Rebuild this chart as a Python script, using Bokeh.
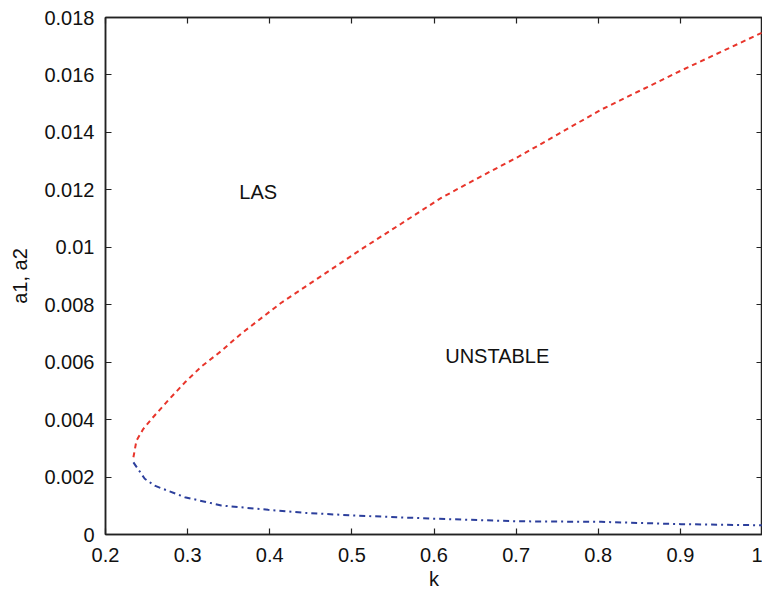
from bokeh.plotting import figure
from bokeh.models import LinearAxis, CustomJSTickFormatter, Label, FixedTicker
from bokeh.embed import file_html
from bokeh.resources import INLINE

# Red dashed curve (upper branch)
red_k = [0.234, 0.2377, 0.2459, 0.256, 0.276, 0.2965, 0.3168, 0.341, 0.3655, 0.4141,
         0.4628, 0.5114, 0.56, 0.6088, 0.6574, 0.704, 0.8034, 0.9007, 1.0]
red_a = [0.00269, 0.00327, 0.00367, 0.00402, 0.00466, 0.00529, 0.00585, 0.00639, 0.007, 0.00807,
         0.009, 0.00993, 0.01082, 0.01172, 0.01247, 0.01317, 0.01479, 0.01615, 0.01748]

# Blue dash-dot curve (lower branch)
blue_k = [0.234, 0.2478, 0.2599, 0.2965, 0.341, 0.398, 0.4445, 0.5032, 0.6005, 0.702,
          0.8034, 0.9007, 1.0]
blue_a = [0.00251, 0.00194, 0.0017, 0.0013, 0.00101, 0.00086, 0.00075, 0.00066, 0.00055, 0.00046,
          0.00044, 0.00036, 0.00032]

x_ticks = [0.2, 0.3, 0.4, 0.5, 0.6, 0.7, 0.8, 0.9, 1.0]
y_ticks = [0, 0.002, 0.004, 0.006, 0.008, 0.01, 0.012, 0.014, 0.016, 0.018]

annotations = [("LAS", 0.386, 0.01192), ("UNSTABLE", 0.677, 0.00622)]

FONT = "Liberation Sans"
FS = "20px"

p = figure(frame_width=657, frame_height=517, x_range=(0.2, 1.0), y_range=(0, 0.018),
           min_border_left=105, min_border_top=17, min_border_right=0, min_border_bottom=40,
           output_backend="svg", toolbar_location=None, x_axis_label="k", y_axis_label="a1, a2")

p.line(red_k, red_a, line_color="#e8352b", line_width=2, line_dash="5 4")
p.line(blue_k, blue_a, line_color="#2c3f9c", line_width=2, line_dash="6 4 2 4")

for txt, kx, ay in annotations:
    p.add_layout(Label(x=kx, y=ay, text=txt, text_align="center", text_baseline="middle",
                       text_font=FONT, text_font_size=FS, text_color="#111111"))

fmt = CustomJSTickFormatter(code="return String(Number(tick.toFixed(6)));")
blank = CustomJSTickFormatter(code="return '';")

p.xgrid.visible = False
p.ygrid.visible = False
p.outline_line_color = "#222222"
p.outline_line_width = 1.5

for ax, ticks in ((p.xaxis[0], x_ticks), (p.yaxis[0], y_ticks)):
    ax.ticker = FixedTicker(ticks=ticks)
    ax.formatter = fmt
    ax.major_tick_in = 6
    ax.major_tick_out = 0
    ax.minor_tick_line_color = None
    ax.axis_line_color = "#222222"
    ax.axis_line_width = 1.5
    ax.major_tick_line_color = "#222222"
    ax.major_tick_line_width = 1.2
    ax.major_label_text_font = FONT
    ax.major_label_text_font_size = FS
    ax.major_label_text_color = "#111111"
    ax.axis_label_text_font = FONT
    ax.axis_label_text_font_size = FS
    ax.axis_label_text_font_style = "normal"
    ax.axis_label_text_color = "#111111"

p.xaxis[0].major_label_standoff = 13
p.yaxis[0].major_label_standoff = 11
p.xaxis[0].axis_label_standoff = 3
p.yaxis[0].axis_label_standoff = 10

for place, ticks in (("above", x_ticks), ("right", y_ticks)):
    ax = LinearAxis(ticker=FixedTicker(ticks=ticks), formatter=blank,
                    major_label_text_font_size="1px",
                    major_label_standoff=0, major_tick_in=6, major_tick_out=0,
                    minor_tick_line_color=None, axis_line_color="#222222", axis_line_width=1.5,
                    major_tick_line_color="#222222", major_tick_line_width=1.2)
    p.add_layout(ax, place)

open("out.html", "w").write(file_html(p, INLINE))
